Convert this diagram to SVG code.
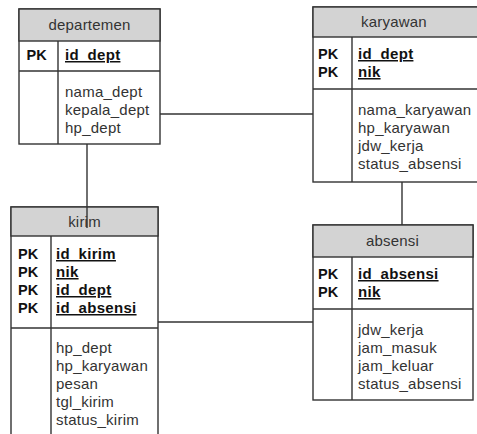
<svg xmlns="http://www.w3.org/2000/svg" width="477" height="434" viewBox="0 0 477 434">
<style>
.box{fill:#fff;stroke:#333;stroke-width:1.4}
.hdr{fill:#d3d3d3;stroke:#333;stroke-width:1.4}
.ln{stroke:#333;stroke-width:1.4;fill:none}
.t{font-family:"Liberation Sans",Arial,sans-serif;font-size:15px;fill:#333;letter-spacing:0.25px}
.h{font-family:"Liberation Sans",Arial,sans-serif;font-size:15px;fill:#333;text-anchor:middle;letter-spacing:0.2px}
.pk{font-family:"Liberation Sans",Arial,sans-serif;font-size:14.5px;font-weight:bold;fill:#111}
.k{font-family:"Liberation Sans",Arial,sans-serif;font-size:15px;font-weight:bold;fill:#111;text-decoration:underline;letter-spacing:0.3px}
</style>
<rect width="477" height="434" fill="#fff"/>
<g id="departemen">
<rect class="box" x="19" y="9" width="141" height="135"/>
<rect class="hdr" x="19" y="9" width="141" height="32"/>
<line class="ln" x1="19" y1="71" x2="160" y2="71"/>
<line class="ln" x1="58" y1="41" x2="58" y2="144"/>
<text class="h" x="89.5" y="30">departemen</text>
<text class="pk" x="26.5" y="60">PK</text>
<text class="k" x="65" y="60">id_dept</text>
<text class="t" x="65" y="97">nama_dept</text>
<text class="t" x="65" y="115">kepala_dept</text>
<text class="t" x="65" y="133">hp_dept</text>
</g>
<g id="karyawan">
<rect class="box" x="313" y="7" width="170" height="175"/>
<rect class="hdr" x="313" y="7" width="170" height="30"/>
<line class="ln" x1="313" y1="89" x2="483" y2="89"/>
<line class="ln" x1="352" y1="37" x2="352" y2="182"/>
<text class="h" x="394" y="27">karyawan</text>
<text class="pk" x="318" y="59">PK</text>
<text class="pk" x="318" y="77">PK</text>
<text class="k" x="358" y="59">id_dept</text>
<text class="k" x="358" y="77">nik</text>
<text class="t" x="358" y="115">nama_karyawan</text>
<text class="t" x="358" y="133">hp_karyawan</text>
<text class="t" x="358" y="151">jdw_kerja</text>
<text class="t" x="358" y="169">status_absensi</text>
</g>
<g id="kirim">
<rect class="box" x="11" y="207" width="147" height="240"/>
<rect class="hdr" x="11" y="207" width="147" height="29"/>
<line class="ln" x1="11" y1="328" x2="158" y2="328"/>
<line class="ln" x1="51" y1="236" x2="51" y2="447"/>
<text class="h" x="84.5" y="226.5">kirim</text>
<text class="pk" x="18" y="259">PK</text>
<text class="pk" x="18" y="277">PK</text>
<text class="pk" x="18" y="295">PK</text>
<text class="pk" x="18" y="313">PK</text>
<text class="k" x="56" y="259">id_kirim</text>
<text class="k" x="56" y="277">nik</text>
<text class="k" x="56" y="295">id_dept</text>
<text class="k" x="56" y="313">id_absensi</text>
<text class="t" x="56" y="353">hp_dept</text>
<text class="t" x="56" y="371">hp_karyawan</text>
<text class="t" x="56" y="389">pesan</text>
<text class="t" x="56" y="407">tgl_kirim</text>
<text class="t" x="56" y="425">status_kirim</text>
</g>
<g id="absensi">
<rect class="box" x="313" y="225" width="160" height="175"/>
<rect class="hdr" x="313" y="225" width="160" height="32"/>
<line class="ln" x1="313" y1="309" x2="473" y2="309"/>
<line class="ln" x1="352" y1="257" x2="352" y2="400"/>
<text class="h" x="392.5" y="246">absensi</text>
<text class="pk" x="318" y="279">PK</text>
<text class="pk" x="318" y="297">PK</text>
<text class="k" x="358" y="279">id_absensi</text>
<text class="k" x="358" y="297">nik</text>
<text class="t" x="358" y="335">jdw_kerja</text>
<text class="t" x="358" y="353">jam_masuk</text>
<text class="t" x="358" y="371">jam_keluar</text>
<text class="t" x="358" y="389">status_absensi</text>
</g>
<g id="connectors">
<line class="ln" x1="160" y1="114" x2="313" y2="114"/>
<line class="ln" x1="87" y1="144" x2="87" y2="228"/>
<line class="ln" x1="402" y1="182" x2="402" y2="225"/>
<line class="ln" x1="158" y1="322" x2="313" y2="322"/>
</g>
</svg>
